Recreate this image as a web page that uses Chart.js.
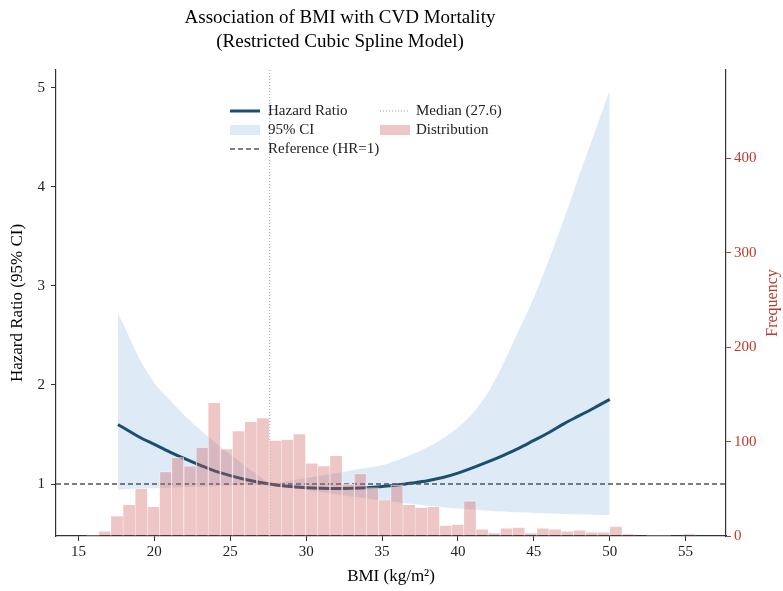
<!DOCTYPE html>
<html>
<head>
<meta charset="utf-8">
<title>BMI and CVD mortality</title>
<script src="https://cdn.jsdelivr.net/npm/chart.js@4.4.1/dist/chart.umd.min.js"></script>
<style>
  html, body { margin: 0; padding: 0; background: #fff; }
  #wrap { width: 783px; height: 591px; position: relative; }
</style>
</head>
<body>
<div id="wrap"><canvas id="rcsChart"></canvas></div>
<script>
// Spline curve
const bmiGrid = [17.6, 18, 19, 20, 21, 22, 23, 24, 25, 26, 27, 27.6, 28, 29, 30, 31, 32, 33, 34, 35, 36, 37, 38, 39, 40, 41, 42, 43, 44, 45, 46, 47, 48, 49, 50];
const hazardRatio = [1.60, 1.565, 1.475, 1.40, 1.325, 1.255, 1.19, 1.13, 1.085, 1.046, 1.015, 1.00, 0.99, 0.975, 0.963, 0.957, 0.955, 0.957, 0.963, 0.975, 0.99, 1.01, 1.033, 1.065, 1.11, 1.165, 1.225, 1.29, 1.36, 1.44, 1.52, 1.61, 1.69, 1.77, 1.855];
const ciUpper = [2.72, 2.60, 2.27, 2.02, 1.85, 1.69, 1.55, 1.42, 1.30, 1.18, 1.07, 1.00, 1.01, 1.035, 1.06, 1.085, 1.11, 1.14, 1.165, 1.19, 1.24, 1.30, 1.37, 1.46, 1.57, 1.72, 1.93, 2.22, 2.55, 2.88, 3.27, 3.68, 4.12, 4.55, 4.97];
const ciLower = [0.945, 0.948, 0.953, 0.958, 0.963, 0.968, 0.973, 0.978, 0.984, 0.99, 0.996, 1.00, 0.985, 0.962, 0.94, 0.917, 0.895, 0.873, 0.853, 0.834, 0.815, 0.797, 0.781, 0.766, 0.752, 0.74, 0.73, 0.722, 0.714, 0.707, 0.702, 0.698, 0.694, 0.69, 0.687];

// BMI histogram (bin centres and counts)
const binCentres = [15.93, 16.73, 17.54, 18.34, 19.14, 19.94, 20.74, 21.54, 22.35, 23.15, 23.95, 24.75, 25.55, 26.36, 27.16, 27.96, 28.76, 29.56, 30.37, 31.17, 31.97, 32.77, 33.57, 34.37, 35.18, 35.98, 36.78, 37.58, 38.38, 39.19, 39.99, 40.79, 41.59, 42.39, 43.20, 44.00, 44.80, 45.60, 46.40, 47.21, 48.01, 48.81, 49.61, 50.41, 51.22, 52.02, 52.82, 53.62, 54.42, 55.23];
const binCounts = [1, 5, 21, 33, 50, 31, 68, 83, 74, 94, 141, 92, 111, 121, 125, 101, 102, 108, 77, 74, 85, 55, 66, 51, 38, 54, 33, 30, 31, 11, 12, 37, 7, 3, 8, 9, 3, 8, 7, 5, 6, 4, 4, 10, 2, 0, 1, 1, 0, 2];

const medianBmi = 27.6;
const referenceHr = 1;
const xTicks = [15, 20, 25, 30, 35, 40, 45, 50, 55];
const hrTicks = [1, 2, 3, 4, 5];
const freqTicks = [0, 100, 200, 300, 400];

const SERIF = '"Liberation Serif", "Times New Roman", serif';
const NAVY = '#1b4f72';
const BAND = 'rgba(160, 196, 228, 0.35)';
const PINK = 'rgba(205, 92, 92, 0.35)';
const RED = '#c0392b';
const INK = '#222';

const pts = (xs, ys) => xs.map((x, i) => ({ x: x, y: ys[i] }));

// titles, legend, reference lines
const decorations = {
  id: 'decorations',
  afterDatasetDraw(chart, args) {
    if (args.index !== 2) return;
    const { ctx, chartArea, scales } = chart;
    ctx.save();
    // reference HR = 1
    const yRef = scales.y.getPixelForValue(referenceHr);
    ctx.strokeStyle = '#555';
    ctx.lineWidth = 1.3;
    ctx.setLineDash([5, 3]);
    ctx.beginPath();
    ctx.moveTo(chartArea.left, yRef);
    ctx.lineTo(chartArea.right, yRef);
    ctx.stroke();
    // median BMI
    const xMed = scales.x.getPixelForValue(medianBmi);
    ctx.strokeStyle = '#999';
    ctx.lineWidth = 1;
    ctx.setLineDash([1, 2]);
    ctx.beginPath();
    ctx.moveTo(xMed, chartArea.top);
    ctx.lineTo(xMed, chartArea.bottom);
    ctx.stroke();
    ctx.restore();
  },
  afterDraw(chart) {
    const { ctx, chartArea } = chart;
    ctx.save();
    ctx.fillStyle = '#000';
    ctx.textAlign = 'center';
    ctx.textBaseline = 'middle';
    ctx.font = '19px ' + SERIF;
    ctx.fillText('Association of BMI with CVD Mortality', 340, 18);
    ctx.fillText('(Restricted Cubic Spline Model)', 340, 42);

    // right axis title, reading upwards
    ctx.fillStyle = RED;
    ctx.font = '16px ' + SERIF;
    ctx.translate(773, (chartArea.top + chartArea.bottom) / 2);
    ctx.rotate(-Math.PI / 2);
    ctx.fillText('Frequency', 0, 0);
    ctx.restore();

    // legend
    ctx.save();
    ctx.font = '15px ' + SERIF;
    ctx.fillStyle = INK;
    ctx.textAlign = 'left';
    ctx.textBaseline = 'middle';
    const rows = [111, 130, 149];
    const c1 = 230, c2 = 380, hw = 30;
    ctx.strokeStyle = NAVY; ctx.lineWidth = 3;
    ctx.beginPath(); ctx.moveTo(c1, rows[0]); ctx.lineTo(c1 + hw, rows[0]); ctx.stroke();
    ctx.fillStyle = BAND; ctx.fillRect(c1, rows[1] - 5, hw, 10);
    ctx.strokeStyle = '#555'; ctx.lineWidth = 1.3; ctx.setLineDash([5, 3]);
    ctx.beginPath(); ctx.moveTo(c1, rows[2]); ctx.lineTo(c1 + hw, rows[2]); ctx.stroke();
    ctx.strokeStyle = '#999'; ctx.lineWidth = 1; ctx.setLineDash([1, 2]);
    ctx.beginPath(); ctx.moveTo(c2, rows[0]); ctx.lineTo(c2 + hw, rows[0]); ctx.stroke();
    ctx.setLineDash([]);
    ctx.fillStyle = PINK; ctx.fillRect(c2, rows[1] - 5, hw, 10);
    ctx.fillStyle = INK;
    ctx.fillText('Hazard Ratio', c1 + 38, rows[0]);
    ctx.fillText('95% CI', c1 + 38, rows[1]);
    ctx.fillText('Reference (HR=1)', c1 + 38, rows[2]);
    ctx.fillText('Median (27.6)', c2 + 36, rows[0]);
    ctx.fillText('Distribution', c2 + 36, rows[1]);
    ctx.restore();
  }
};

const axisLook = (color) => ({
  border: { display: true, color: '#333', width: 1.2 },
  grid: { drawOnChartArea: false, drawTicks: true, tickLength: 5, color: color, lineWidth: 1, offset: false },
});

new Chart(document.getElementById('rcsChart'), {
  data: {
    datasets: [
      {
        type: 'line', label: 'lower', data: pts(bmiGrid, ciLower),
        borderWidth: 0, pointRadius: 0, fill: false, order: 3,
        cubicInterpolationMode: 'monotone', yAxisID: 'y'
      },
      {
        type: 'line', label: '95% CI', data: pts(bmiGrid, ciUpper),
        borderWidth: 0, pointRadius: 0, fill: '-1', backgroundColor: BAND, order: 2,
        cubicInterpolationMode: 'monotone', yAxisID: 'y'
      },
      {
        type: 'line', label: 'Hazard Ratio', data: pts(bmiGrid, hazardRatio),
        borderColor: NAVY, borderWidth: 3, pointRadius: 0, fill: false, order: 1,
        cubicInterpolationMode: 'monotone', yAxisID: 'y'
      },
      {
        type: 'bar', label: 'Distribution', data: pts(binCentres, binCounts),
        backgroundColor: PINK, borderColor: 'rgba(255,255,255,0.85)', borderWidth: 0.5,
        barPercentage: 1, categoryPercentage: 1, order: 0, yAxisID: 'y1'
      }
    ]
  },
  options: {
    responsive: true,
    maintainAspectRatio: false,
    animation: false,
    layout: { padding: { top: 70, left: 0, right: 0, bottom: 0 } },
    plugins: { legend: { display: false }, tooltip: { enabled: false } },
    scales: {
      x: {
        type: 'linear', min: 13.52, max: 57.66, offset: false,
        ...axisLook('#333'),
        afterFit: s => { s.height = 55; },
        afterBuildTicks: s => { s.ticks = xTicks.map(v => ({ value: v })); },
        ticks: { color: INK, font: { family: SERIF, size: 15 }, padding: 2 },
        title: { display: true, text: 'BMI (kg/m²)', color: '#000', font: { family: SERIF, size: 17 }, padding: { bottom: 4 } }
      },
      y: {
        type: 'linear', position: 'left', min: 0.475, max: 5.18,
        ...axisLook('#333'),
        afterFit: s => { s.width = 56; },
        afterBuildTicks: s => { s.ticks = hrTicks.map(v => ({ value: v })); },
        ticks: { color: INK, font: { family: SERIF, size: 15 }, padding: 6 },
        title: { display: true, text: 'Hazard Ratio (95% CI)', color: '#000', font: { family: SERIF, size: 17 }, padding: { top: 7 } }
      },
      y1: {
        type: 'linear', position: 'right', min: 0, max: 493.5,
        ...axisLook(RED),
        afterFit: s => { s.width = 57; },
        afterBuildTicks: s => { s.ticks = freqTicks.map(v => ({ value: v })); },
        ticks: { color: RED, font: { family: SERIF, size: 15 }, padding: 3 }
      }
    }
  },
  plugins: [decorations]
});
</script>
</body>
</html>
